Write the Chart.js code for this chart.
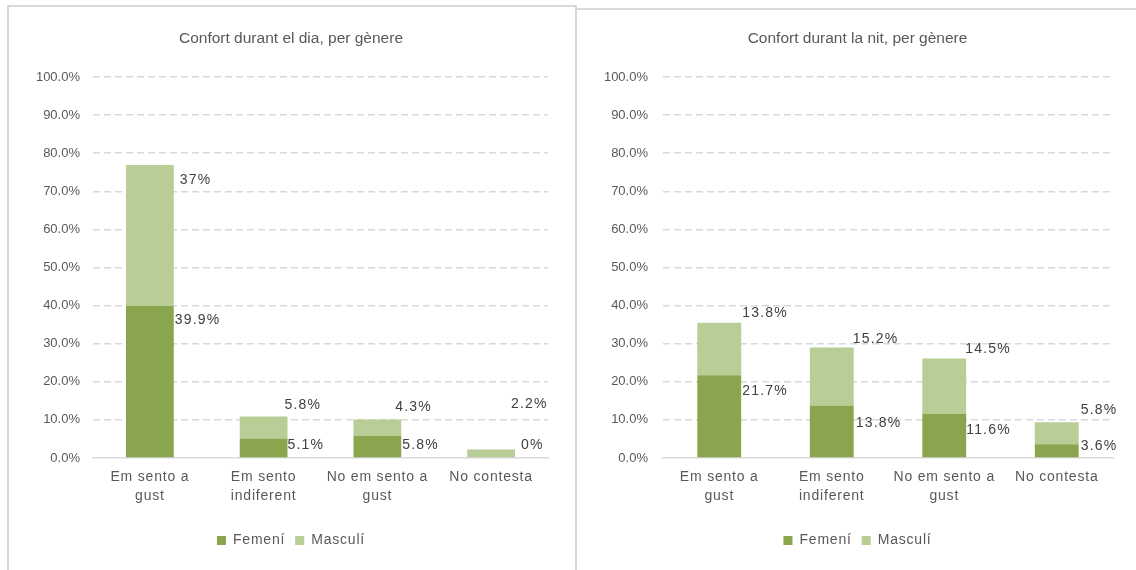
<!DOCTYPE html>
<html><head><meta charset="utf-8">
<script src="https://cdn.jsdelivr.net/npm/chart.js@4/dist/chart.umd.min.js"></script>
<style>
html,body{margin:0;padding:0;background:#fff;width:1136px;height:570px;overflow:hidden;}
.panel{position:absolute;box-sizing:border-box;border:2px solid #d9d9d9;background:#fff;}
canvas{position:absolute;}
</style></head><body>
<div class="panel" style="left:7px;top:5px;width:570px;height:600px;"></div>
<div class="panel" style="left:575px;top:8px;width:600px;height:600px;"></div>
<canvas id="c1" width="564" height="563" style="left:9px;top:7px;"></canvas>
<canvas id="c2" width="557" height="560" style="left:579px;top:10px;"></canvas>
<script>
const categories = [["Em sento a","gust"],["Em sento","indiferent"],["No em sento a","gust"],"No contesta"];
const seriesNames = ["Femení","Masculí"];
const dayTitle = "Confort durant el dia, per gènere";
const nightTitle = "Confort durant la nit, per gènere";
const dayFemeni = [39.9, 5.1, 5.8, 0];
const dayMasculi = [37, 5.8, 4.3, 2.2];
const dayFemeniLabels = ["39.9%","5.1%","5.8%","0%"];
const dayMasculiLabels = ["37%","5.8%","4.3%","2.2%"];
const nightFemeni = [21.7, 13.8, 11.6, 3.6];
const nightMasculi = [13.8, 15.2, 14.5, 5.8];
const nightFemeniLabels = ["21.7%","13.8%","11.6%","3.6%"];
const nightMasculiLabels = ["13.8%","15.2%","14.5%","5.8%"];
const yTicks = [0,10,20,30,40,50,60,70,80,90,100];

// label placement offsets (style only), relative to the segment top / bar right edge
const dayLabelStyle = {fem:{dx:[1,0,1,6],dy:[14,6.5,9,-13]}, masc:{dx:[6,-3,-6,-4],dy:[15,-11,-12,-45]}};
const nightLabelStyle = {fem:{dx:[1,2,0,2],dy:[15.5,17.7,16,2]}, masc:{dx:[1,-1,-1,2],dy:[-10,-8,-9,-12]}};

const FONT = "'Liberation Sans', Arial, sans-serif";
const TICK = '#595959';
const DARK = '#89a54e', LIGHT = '#b9cd96';

function withSpacing(obj, name, sp){
  const orig = obj[name];
  obj[name] = function(...args){
    const ctx = this.ctx;
    ctx.save();
    ctx.letterSpacing = sp;
    const r = orig.apply(this, args);
    ctx.restore();
    return r;
  };
}

const spacingPlugin = {
  id:'spacing',
  beforeInit(chart){
    if (chart.legend) { withSpacing(chart.legend,'fit','0.8px'); withSpacing(chart.legend,'draw','0.8px'); }
  },
  afterUpdate(chart){
    const x = chart.scales.x;
    if (x && !x._spPatched){ withSpacing(x,'drawLabels','0.8px'); x._spPatched = true; }
  }
};

const labelPlugin = {
  id:'segLabels',
  afterDatasetsDraw(chart){
    const st = chart.options.plugins.segLabels;
    const ctx = chart.ctx;
    ctx.save();
    ctx.font = "14px " + FONT;
    ctx.letterSpacing = '1.2px';
    ctx.fillStyle = '#404040';
    ctx.textBaseline = 'middle';
    ctx.textAlign = 'left';
    [['fem',0],['masc',1]].forEach(([key,di])=>{
      const meta = chart.getDatasetMeta(di);
      meta.data.forEach((bar,j)=>{
        const txt = st.texts[di][j];
        const x = bar.x + bar.width/2 + st.style[key].dx[j];
        const y = bar.y + st.style[key].dy[j];
        ctx.fillText(txt, x, y);
      });
    });
    ctx.restore();
  }
};

function makeChart(id, title, fem, masc, femL, mascL, style, opts){
  return new Chart(document.getElementById(id), {
    type:'bar',
    data:{
      labels:categories,
      datasets:[
        {label:seriesNames[0], data:fem, backgroundColor:DARK, barPercentage:opts.bp, categoryPercentage:1},
        {label:seriesNames[1], data:masc, backgroundColor:LIGHT, barPercentage:opts.bp, categoryPercentage:1}
      ]
    },
    options:{
      responsive:false, animation:false,
      layout:{padding:{left:0,right:0,top:0,bottom:12.5}},
      plugins:{
        title:{display:true,text:title,color:TICK,font:{family:FONT,size:15.5,weight:'normal',lineHeight:1.2},padding:{top:opts.titleTop,bottom:opts.titleBottom}},
        legend:{display:true,position:'bottom',labels:{color:TICK,font:{family:FONT,size:14},boxWidth:9,boxHeight:9,padding:10}},
        tooltip:{enabled:false},
        segLabels:{texts:[femL,mascL],style:style}
      },
      scales:{
        x:{stacked:true,
           grid:{display:false,drawTicks:false},
           border:{display:true,color:'#d9d9d9',width:1.5},
           ticks:{color:TICK,font:{family:FONT,size:14,lineHeight:1.36},padding:10,maxRotation:0,autoSkip:false},
           afterFit(s){s.height=65.5;}
        },
        y:{stacked:true,min:0,max:100,
           afterBuildTicks(s){s.ticks = yTicks.map(v=>({value:v}));},
           grid:{color:(c)=>c.tick && c.tick.value===0?'rgba(0,0,0,0)':'#d9d9d9',lineWidth:1.5,drawTicks:false},
           border:{display:false,dash:[7,4]},
           ticks:{color:TICK,font:{family:FONT,size:13},padding:opts.tickPad,callback:(v)=>Number(v).toFixed(1)+'%'},
           afterFit(s){s.width=opts.yWidth;}
        },
        yPad:{position:'right',min:0,max:100,
           grid:{display:false,drawTicks:false},
           border:{display:false},
           ticks:{display:false},
           afterFit(s){s.width=opts.padRight;}
        }
      }
    },
    plugins:[spacingPlugin,labelPlugin]
  });
}
makeChart('c1', dayTitle, dayFemeni, dayMasculi, dayFemeniLabels, dayMasculiLabels, dayLabelStyle,
  {bp:0.42,padRight:25,titleTop:22,titleBottom:29.4,tickPad:13,yWidth:84});
makeChart('c2', nightTitle, nightFemeni, nightMasculi, nightFemeniLabels, nightMasculiLabels, nightLabelStyle,
  {bp:0.39,padRight:23,titleTop:19,titleBottom:29.4,tickPad:15,yWidth:84});
</script>
</body></html>
